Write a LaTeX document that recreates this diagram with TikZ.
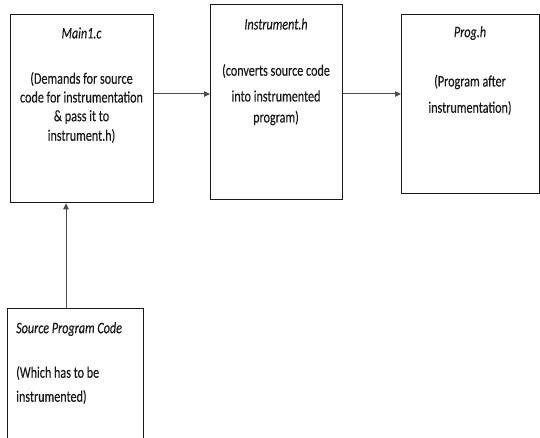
\documentclass[tikz,border=0pt]{standalone}
\usepackage{fontspec}
\usepackage{graphicx}
\setmainfont{Carlito}[FakeBold=0.3]
\usetikzlibrary{arrows.meta}
% taller, narrow lettering
\newcommand{\tall}[1]{\scalebox{0.97}[1.28]{#1}}
\begin{document}
\begin{tikzpicture}[x=1pt,y=-1pt,
  box/.style={draw=black!90, line width=1.3pt, inner sep=0pt, anchor=north west},
  txt/.style={text=black!90, font=\fontsize{12.5}{15}\selectfont, inner sep=0pt},
  title/.style={txt, font=\fontsize{12.5}{15}\selectfont\itshape},
  link/.style={draw=black!70, line width=1pt, -{Triangle[length=6pt,width=5.5pt]}}]
\useasboundingbox (0,0) rectangle (540,438);
\clip (0,0) rectangle (540,438);

% boxes
\node[box, minimum width=143pt, minimum height=188pt] (main) at (10,14) {};
\node[box, minimum width=132pt, minimum height=195pt] (instr) at (210,4) {};
\node[box, minimum width=138pt, minimum height=179pt] (prog) at (401,14) {};
\node[box, minimum width=136pt, minimum height=150pt] (src) at (7,308) {};

% Main1.c
\node[title] (t1) at (81.5,33) {\tall{Main1.c}};
\node[txt] (b1a) at (81.5,79) {\tall{(Demands for source}};
\node[txt] (b1b) at (81.5,97) {\tall{code for instrumentation}};
\node[txt] (b1c) at (81.5,117) {\tall{\& pass it to}};
\node[txt] (b1d) at (81.5,136) {\tall{instrument.h)}};

% Instrument.h
\node[title] (t2) at (276,24) {\tall{Instrument.h}};
\node[txt] (b2a) at (276,71) {\tall{(converts source code}};
\node[txt] (b2b) at (276,96) {\tall{into instrumented}};
\node[txt] (b2c) at (276,118) {\tall{program)}};

% Prog.h
\node[title] (t3) at (470,33) {\tall{Prog.h}};
\node[txt] (b3a) at (470,82) {\tall{(Program after}};
\node[txt] (b3b) at (470,108) {\tall{instrumentation)}};

% Source Program Code
\node[title, anchor=west] (t4) at (16,329) {\tall{Source Program Code}};
\node[txt, anchor=west] (b4a) at (16,373) {\tall{(Which has to be}};
\node[txt, anchor=west] (b4b) at (16,397) {\tall{instrumented)}};

% connectors
\coordinate (row) at (0,94);
\coordinate (col) at (66,0);
\draw[link] (main.east |- row) -- (instr.west |- row);
\draw[link] (instr.east |- row) -- (prog.west |- row);
\draw[link] (src.north -| col) -- (main.south -| col);
\end{tikzpicture}
\end{document}
